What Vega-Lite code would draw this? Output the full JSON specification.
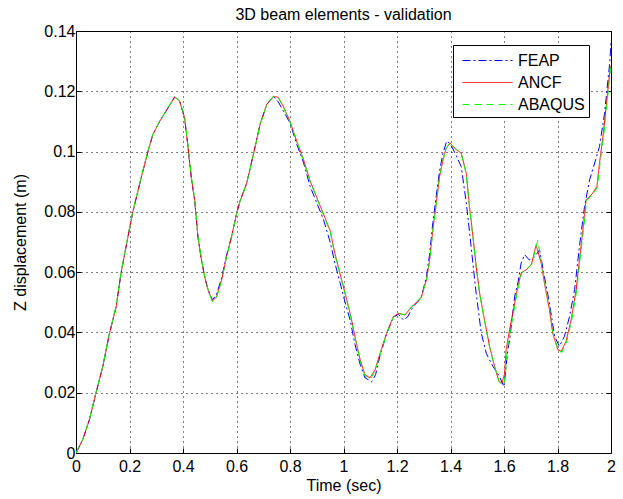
{
  "$schema": "https://vega.github.io/schema/vega-lite/v6.json",
  "autosize": {"type": "none"},
  "width": 535,
  "height": 422,
  "padding": {"left": 76, "top": 31, "right": 12, "bottom": 46},
  "background": "white",
  "title": {"text": "3D beam elements - validation", "fontSize": 16, "font": "Liberation Sans", "fontWeight": "normal", "color": "#000000", "offset": 0, "frame": "group", "anchor": "middle"},
  "config": {
    "view": {"stroke": "#000000", "strokeWidth": 1},
    "axis": {"labelFont": "Liberation Sans", "titleFont": "Liberation Sans", "labelFontSize": 16, "titleFontSize": 16, "titleFontWeight": "normal", "labelColor": "#000000", "titleColor": "#000000", "domain": false, "tickColor": "#000000", "tickSize": -5, "gridColor": "#000000", "gridDash": [1, 4], "gridOpacity": 1, "gridWidth": 1}
  },
  "datasets": {
    "curves": [
      {"t": 0, "y": 0, "s": "FEAP"},
      {"t": 0.025, "y": 0.0044, "s": "FEAP"},
      {"t": 0.05, "y": 0.011, "s": "FEAP"},
      {"t": 0.075, "y": 0.02, "s": "FEAP"},
      {"t": 0.1, "y": 0.0286, "s": "FEAP"},
      {"t": 0.125, "y": 0.0396, "s": "FEAP"},
      {"t": 0.15, "y": 0.0485, "s": "FEAP"},
      {"t": 0.169, "y": 0.06, "s": "FEAP"},
      {"t": 0.194, "y": 0.0716, "s": "FEAP"},
      {"t": 0.2125, "y": 0.08, "s": "FEAP"},
      {"t": 0.244, "y": 0.0914, "s": "FEAP"},
      {"t": 0.269, "y": 0.1, "s": "FEAP"},
      {"t": 0.2875, "y": 0.1057, "s": "FEAP"},
      {"t": 0.3125, "y": 0.11, "s": "FEAP"},
      {"t": 0.344, "y": 0.1145, "s": "FEAP"},
      {"t": 0.369, "y": 0.1181, "s": "FEAP"},
      {"t": 0.3875, "y": 0.1167, "s": "FEAP"},
      {"t": 0.406, "y": 0.1112, "s": "FEAP"},
      {"t": 0.419, "y": 0.1013, "s": "FEAP"},
      {"t": 0.431, "y": 0.0914, "s": "FEAP"},
      {"t": 0.444, "y": 0.0837, "s": "FEAP"},
      {"t": 0.456, "y": 0.0716, "s": "FEAP"},
      {"t": 0.469, "y": 0.064, "s": "FEAP"},
      {"t": 0.481, "y": 0.0585, "s": "FEAP"},
      {"t": 0.494, "y": 0.054, "s": "FEAP"},
      {"t": 0.51, "y": 0.0508, "s": "FEAP"},
      {"t": 0.525, "y": 0.0525, "s": "FEAP"},
      {"t": 0.544, "y": 0.058, "s": "FEAP"},
      {"t": 0.5625, "y": 0.0655, "s": "FEAP"},
      {"t": 0.581, "y": 0.0716, "s": "FEAP"},
      {"t": 0.6, "y": 0.0793, "s": "FEAP"},
      {"t": 0.613, "y": 0.0835, "s": "FEAP"},
      {"t": 0.638, "y": 0.0895, "s": "FEAP"},
      {"t": 0.663, "y": 0.099, "s": "FEAP"},
      {"t": 0.688, "y": 0.109, "s": "FEAP"},
      {"t": 0.713, "y": 0.1156, "s": "FEAP"},
      {"t": 0.738, "y": 0.1183, "s": "FEAP"},
      {"t": 0.756, "y": 0.1165, "s": "FEAP"},
      {"t": 0.775, "y": 0.1135, "s": "FEAP"},
      {"t": 0.8, "y": 0.1095, "s": "FEAP"},
      {"t": 0.825, "y": 0.1025, "s": "FEAP"},
      {"t": 0.85, "y": 0.0965, "s": "FEAP"},
      {"t": 0.875, "y": 0.0885, "s": "FEAP"},
      {"t": 0.9, "y": 0.083, "s": "FEAP"},
      {"t": 0.925, "y": 0.0775, "s": "FEAP"},
      {"t": 0.95, "y": 0.07, "s": "FEAP"},
      {"t": 0.968, "y": 0.063, "s": "FEAP"},
      {"t": 0.987, "y": 0.0565, "s": "FEAP"},
      {"t": 1.006, "y": 0.05, "s": "FEAP"},
      {"t": 1.025, "y": 0.044, "s": "FEAP"},
      {"t": 1.043, "y": 0.036, "s": "FEAP"},
      {"t": 1.062, "y": 0.0295, "s": "FEAP"},
      {"t": 1.08, "y": 0.025, "s": "FEAP"},
      {"t": 1.105, "y": 0.0236, "s": "FEAP"},
      {"t": 1.12, "y": 0.026, "s": "FEAP"},
      {"t": 1.137, "y": 0.0325, "s": "FEAP"},
      {"t": 1.161, "y": 0.0395, "s": "FEAP"},
      {"t": 1.186, "y": 0.045, "s": "FEAP"},
      {"t": 1.205, "y": 0.046, "s": "FEAP"},
      {"t": 1.224, "y": 0.0441, "s": "FEAP"},
      {"t": 1.24, "y": 0.0452, "s": "FEAP"},
      {"t": 1.26, "y": 0.0485, "s": "FEAP"},
      {"t": 1.29, "y": 0.0514, "s": "FEAP"},
      {"t": 1.31, "y": 0.0585, "s": "FEAP"},
      {"t": 1.322, "y": 0.066, "s": "FEAP"},
      {"t": 1.334, "y": 0.0765, "s": "FEAP"},
      {"t": 1.347, "y": 0.0855, "s": "FEAP"},
      {"t": 1.359, "y": 0.0935, "s": "FEAP"},
      {"t": 1.372, "y": 0.0995, "s": "FEAP"},
      {"t": 1.386, "y": 0.1035, "s": "FEAP"},
      {"t": 1.399, "y": 0.1025, "s": "FEAP"},
      {"t": 1.42, "y": 0.099, "s": "FEAP"},
      {"t": 1.44, "y": 0.095, "s": "FEAP"},
      {"t": 1.459, "y": 0.083, "s": "FEAP"},
      {"t": 1.477, "y": 0.0685, "s": "FEAP"},
      {"t": 1.496, "y": 0.053, "s": "FEAP"},
      {"t": 1.515, "y": 0.0398, "s": "FEAP"},
      {"t": 1.534, "y": 0.033, "s": "FEAP"},
      {"t": 1.559, "y": 0.0287, "s": "FEAP"},
      {"t": 1.583, "y": 0.0254, "s": "FEAP"},
      {"t": 1.6, "y": 0.022, "s": "FEAP"},
      {"t": 1.614, "y": 0.034, "s": "FEAP"},
      {"t": 1.621, "y": 0.0376, "s": "FEAP"},
      {"t": 1.64, "y": 0.052, "s": "FEAP"},
      {"t": 1.652, "y": 0.0564, "s": "FEAP"},
      {"t": 1.664, "y": 0.063, "s": "FEAP"},
      {"t": 1.677, "y": 0.0658, "s": "FEAP"},
      {"t": 1.695, "y": 0.064, "s": "FEAP"},
      {"t": 1.714, "y": 0.065, "s": "FEAP"},
      {"t": 1.733, "y": 0.0674, "s": "FEAP"},
      {"t": 1.751, "y": 0.0586, "s": "FEAP"},
      {"t": 1.77, "y": 0.0497, "s": "FEAP"},
      {"t": 1.789, "y": 0.0387, "s": "FEAP"},
      {"t": 1.807, "y": 0.0354, "s": "FEAP"},
      {"t": 1.826, "y": 0.0387, "s": "FEAP"},
      {"t": 1.845, "y": 0.0453, "s": "FEAP"},
      {"t": 1.864, "y": 0.0542, "s": "FEAP"},
      {"t": 1.882, "y": 0.0685, "s": "FEAP"},
      {"t": 1.901, "y": 0.0818, "s": "FEAP"},
      {"t": 1.92, "y": 0.0906, "s": "FEAP"},
      {"t": 1.939, "y": 0.0962, "s": "FEAP"},
      {"t": 1.957, "y": 0.1017, "s": "FEAP"},
      {"t": 1.976, "y": 0.1127, "s": "FEAP"},
      {"t": 1.995, "y": 0.1293, "s": "FEAP"},
      {"t": 2.0, "y": 0.136, "s": "FEAP"},

      {"t": 0, "y": 0, "s": "ANCF"},
      {"t": 0.025, "y": 0.0044, "s": "ANCF"},
      {"t": 0.05, "y": 0.011, "s": "ANCF"},
      {"t": 0.075, "y": 0.02, "s": "ANCF"},
      {"t": 0.1, "y": 0.0286, "s": "ANCF"},
      {"t": 0.125, "y": 0.0396, "s": "ANCF"},
      {"t": 0.15, "y": 0.0485, "s": "ANCF"},
      {"t": 0.169, "y": 0.06, "s": "ANCF"},
      {"t": 0.194, "y": 0.0716, "s": "ANCF"},
      {"t": 0.2125, "y": 0.08, "s": "ANCF"},
      {"t": 0.244, "y": 0.0914, "s": "ANCF"},
      {"t": 0.269, "y": 0.1, "s": "ANCF"},
      {"t": 0.2875, "y": 0.1057, "s": "ANCF"},
      {"t": 0.3125, "y": 0.11, "s": "ANCF"},
      {"t": 0.344, "y": 0.1145, "s": "ANCF"},
      {"t": 0.369, "y": 0.1181, "s": "ANCF"},
      {"t": 0.3875, "y": 0.1167, "s": "ANCF"},
      {"t": 0.406, "y": 0.1112, "s": "ANCF"},
      {"t": 0.419, "y": 0.1013, "s": "ANCF"},
      {"t": 0.431, "y": 0.0914, "s": "ANCF"},
      {"t": 0.444, "y": 0.0837, "s": "ANCF"},
      {"t": 0.456, "y": 0.0716, "s": "ANCF"},
      {"t": 0.469, "y": 0.064, "s": "ANCF"},
      {"t": 0.481, "y": 0.0585, "s": "ANCF"},
      {"t": 0.494, "y": 0.054, "s": "ANCF"},
      {"t": 0.51, "y": 0.0504, "s": "ANCF"},
      {"t": 0.525, "y": 0.0518, "s": "ANCF"},
      {"t": 0.544, "y": 0.0573, "s": "ANCF"},
      {"t": 0.5625, "y": 0.065, "s": "ANCF"},
      {"t": 0.581, "y": 0.0716, "s": "ANCF"},
      {"t": 0.6, "y": 0.0793, "s": "ANCF"},
      {"t": 0.613, "y": 0.0835, "s": "ANCF"},
      {"t": 0.638, "y": 0.0895, "s": "ANCF"},
      {"t": 0.663, "y": 0.099, "s": "ANCF"},
      {"t": 0.688, "y": 0.109, "s": "ANCF"},
      {"t": 0.713, "y": 0.1156, "s": "ANCF"},
      {"t": 0.738, "y": 0.1183, "s": "ANCF"},
      {"t": 0.756, "y": 0.118, "s": "ANCF"},
      {"t": 0.775, "y": 0.115, "s": "ANCF"},
      {"t": 0.8, "y": 0.11, "s": "ANCF"},
      {"t": 0.825, "y": 0.1035, "s": "ANCF"},
      {"t": 0.85, "y": 0.0975, "s": "ANCF"},
      {"t": 0.875, "y": 0.0903, "s": "ANCF"},
      {"t": 0.9, "y": 0.0848, "s": "ANCF"},
      {"t": 0.925, "y": 0.0793, "s": "ANCF"},
      {"t": 0.95, "y": 0.0738, "s": "ANCF"},
      {"t": 0.968, "y": 0.0661, "s": "ANCF"},
      {"t": 0.987, "y": 0.0595, "s": "ANCF"},
      {"t": 1.006, "y": 0.053, "s": "ANCF"},
      {"t": 1.025, "y": 0.0463, "s": "ANCF"},
      {"t": 1.043, "y": 0.0386, "s": "ANCF"},
      {"t": 1.062, "y": 0.031, "s": "ANCF"},
      {"t": 1.08, "y": 0.026, "s": "ANCF"},
      {"t": 1.099, "y": 0.0249, "s": "ANCF"},
      {"t": 1.118, "y": 0.0276, "s": "ANCF"},
      {"t": 1.137, "y": 0.0331, "s": "ANCF"},
      {"t": 1.161, "y": 0.0397, "s": "ANCF"},
      {"t": 1.186, "y": 0.0452, "s": "ANCF"},
      {"t": 1.205, "y": 0.0463, "s": "ANCF"},
      {"t": 1.23, "y": 0.0458, "s": "ANCF"},
      {"t": 1.255, "y": 0.0485, "s": "ANCF"},
      {"t": 1.29, "y": 0.0514, "s": "ANCF"},
      {"t": 1.31, "y": 0.0575, "s": "ANCF"},
      {"t": 1.322, "y": 0.064, "s": "ANCF"},
      {"t": 1.334, "y": 0.074, "s": "ANCF"},
      {"t": 1.347, "y": 0.083, "s": "ANCF"},
      {"t": 1.359, "y": 0.0917, "s": "ANCF"},
      {"t": 1.372, "y": 0.0973, "s": "ANCF"},
      {"t": 1.384, "y": 0.1011, "s": "ANCF"},
      {"t": 1.399, "y": 0.1028, "s": "ANCF"},
      {"t": 1.415, "y": 0.1011, "s": "ANCF"},
      {"t": 1.44, "y": 0.0995, "s": "ANCF"},
      {"t": 1.459, "y": 0.0928, "s": "ANCF"},
      {"t": 1.471, "y": 0.0818, "s": "ANCF"},
      {"t": 1.484, "y": 0.0718, "s": "ANCF"},
      {"t": 1.496, "y": 0.0619, "s": "ANCF"},
      {"t": 1.509, "y": 0.053, "s": "ANCF"},
      {"t": 1.527, "y": 0.0442, "s": "ANCF"},
      {"t": 1.546, "y": 0.0354, "s": "ANCF"},
      {"t": 1.565, "y": 0.0287, "s": "ANCF"},
      {"t": 1.581, "y": 0.0238, "s": "ANCF"},
      {"t": 1.592, "y": 0.0232, "s": "ANCF"},
      {"t": 1.602, "y": 0.0262, "s": "ANCF"},
      {"t": 1.608, "y": 0.0343, "s": "ANCF"},
      {"t": 1.621, "y": 0.0409, "s": "ANCF"},
      {"t": 1.64, "y": 0.0497, "s": "ANCF"},
      {"t": 1.652, "y": 0.0553, "s": "ANCF"},
      {"t": 1.664, "y": 0.0597, "s": "ANCF"},
      {"t": 1.683, "y": 0.0608, "s": "ANCF"},
      {"t": 1.702, "y": 0.0624, "s": "ANCF"},
      {"t": 1.72, "y": 0.069, "s": "ANCF"},
      {"t": 1.739, "y": 0.063, "s": "ANCF"},
      {"t": 1.751, "y": 0.0564, "s": "ANCF"},
      {"t": 1.77, "y": 0.0475, "s": "ANCF"},
      {"t": 1.782, "y": 0.0398, "s": "ANCF"},
      {"t": 1.801, "y": 0.0343, "s": "ANCF"},
      {"t": 1.814, "y": 0.0337, "s": "ANCF"},
      {"t": 1.832, "y": 0.037, "s": "ANCF"},
      {"t": 1.851, "y": 0.0442, "s": "ANCF"},
      {"t": 1.87, "y": 0.0542, "s": "ANCF"},
      {"t": 1.882, "y": 0.0641, "s": "ANCF"},
      {"t": 1.895, "y": 0.074, "s": "ANCF"},
      {"t": 1.907, "y": 0.084, "s": "ANCF"},
      {"t": 1.932, "y": 0.0862, "s": "ANCF"},
      {"t": 1.947, "y": 0.0884, "s": "ANCF"},
      {"t": 1.957, "y": 0.0962, "s": "ANCF"},
      {"t": 1.97, "y": 0.105, "s": "ANCF"},
      {"t": 1.982, "y": 0.115, "s": "ANCF"},
      {"t": 1.995, "y": 0.126, "s": "ANCF"},
      {"t": 2.0, "y": 0.1285, "s": "ANCF"},

      {"t": 0, "y": 0, "s": "ABAQUS"},
      {"t": 0.025, "y": 0.0045, "s": "ABAQUS"},
      {"t": 0.05, "y": 0.0112, "s": "ABAQUS"},
      {"t": 0.075, "y": 0.0202, "s": "ABAQUS"},
      {"t": 0.1, "y": 0.0288, "s": "ABAQUS"},
      {"t": 0.125, "y": 0.0398, "s": "ABAQUS"},
      {"t": 0.15, "y": 0.0487, "s": "ABAQUS"},
      {"t": 0.169, "y": 0.0602, "s": "ABAQUS"},
      {"t": 0.194, "y": 0.0718, "s": "ABAQUS"},
      {"t": 0.2125, "y": 0.0802, "s": "ABAQUS"},
      {"t": 0.244, "y": 0.0916, "s": "ABAQUS"},
      {"t": 0.269, "y": 0.1002, "s": "ABAQUS"},
      {"t": 0.2875, "y": 0.1058, "s": "ABAQUS"},
      {"t": 0.3125, "y": 0.1101, "s": "ABAQUS"},
      {"t": 0.344, "y": 0.1146, "s": "ABAQUS"},
      {"t": 0.369, "y": 0.1182, "s": "ABAQUS"},
      {"t": 0.3875, "y": 0.1168, "s": "ABAQUS"},
      {"t": 0.406, "y": 0.1115, "s": "ABAQUS"},
      {"t": 0.419, "y": 0.1018, "s": "ABAQUS"},
      {"t": 0.431, "y": 0.0918, "s": "ABAQUS"},
      {"t": 0.444, "y": 0.084, "s": "ABAQUS"},
      {"t": 0.456, "y": 0.072, "s": "ABAQUS"},
      {"t": 0.469, "y": 0.0643, "s": "ABAQUS"},
      {"t": 0.481, "y": 0.0587, "s": "ABAQUS"},
      {"t": 0.494, "y": 0.0542, "s": "ABAQUS"},
      {"t": 0.51, "y": 0.0502, "s": "ABAQUS"},
      {"t": 0.525, "y": 0.0514, "s": "ABAQUS"},
      {"t": 0.544, "y": 0.057, "s": "ABAQUS"},
      {"t": 0.5625, "y": 0.0648, "s": "ABAQUS"},
      {"t": 0.581, "y": 0.0715, "s": "ABAQUS"},
      {"t": 0.6, "y": 0.0792, "s": "ABAQUS"},
      {"t": 0.613, "y": 0.0834, "s": "ABAQUS"},
      {"t": 0.638, "y": 0.0894, "s": "ABAQUS"},
      {"t": 0.663, "y": 0.0989, "s": "ABAQUS"},
      {"t": 0.688, "y": 0.1089, "s": "ABAQUS"},
      {"t": 0.713, "y": 0.1155, "s": "ABAQUS"},
      {"t": 0.738, "y": 0.1184, "s": "ABAQUS"},
      {"t": 0.756, "y": 0.1179, "s": "ABAQUS"},
      {"t": 0.775, "y": 0.1148, "s": "ABAQUS"},
      {"t": 0.8, "y": 0.1098, "s": "ABAQUS"},
      {"t": 0.825, "y": 0.1033, "s": "ABAQUS"},
      {"t": 0.85, "y": 0.0973, "s": "ABAQUS"},
      {"t": 0.875, "y": 0.0901, "s": "ABAQUS"},
      {"t": 0.9, "y": 0.0846, "s": "ABAQUS"},
      {"t": 0.925, "y": 0.079, "s": "ABAQUS"},
      {"t": 0.95, "y": 0.0734, "s": "ABAQUS"},
      {"t": 0.968, "y": 0.0658, "s": "ABAQUS"},
      {"t": 0.987, "y": 0.0592, "s": "ABAQUS"},
      {"t": 1.006, "y": 0.0527, "s": "ABAQUS"},
      {"t": 1.025, "y": 0.046, "s": "ABAQUS"},
      {"t": 1.043, "y": 0.0383, "s": "ABAQUS"},
      {"t": 1.062, "y": 0.0306, "s": "ABAQUS"},
      {"t": 1.08, "y": 0.0256, "s": "ABAQUS"},
      {"t": 1.1, "y": 0.0244, "s": "ABAQUS"},
      {"t": 1.118, "y": 0.0272, "s": "ABAQUS"},
      {"t": 1.137, "y": 0.0328, "s": "ABAQUS"},
      {"t": 1.161, "y": 0.0395, "s": "ABAQUS"},
      {"t": 1.186, "y": 0.045, "s": "ABAQUS"},
      {"t": 1.205, "y": 0.0462, "s": "ABAQUS"},
      {"t": 1.23, "y": 0.0459, "s": "ABAQUS"},
      {"t": 1.255, "y": 0.0486, "s": "ABAQUS"},
      {"t": 1.29, "y": 0.0516, "s": "ABAQUS"},
      {"t": 1.31, "y": 0.0572, "s": "ABAQUS"},
      {"t": 1.322, "y": 0.0636, "s": "ABAQUS"},
      {"t": 1.334, "y": 0.0738, "s": "ABAQUS"},
      {"t": 1.347, "y": 0.0828, "s": "ABAQUS"},
      {"t": 1.359, "y": 0.0915, "s": "ABAQUS"},
      {"t": 1.372, "y": 0.0972, "s": "ABAQUS"},
      {"t": 1.384, "y": 0.1012, "s": "ABAQUS"},
      {"t": 1.399, "y": 0.103, "s": "ABAQUS"},
      {"t": 1.415, "y": 0.1013, "s": "ABAQUS"},
      {"t": 1.44, "y": 0.0993, "s": "ABAQUS"},
      {"t": 1.459, "y": 0.0925, "s": "ABAQUS"},
      {"t": 1.471, "y": 0.0815, "s": "ABAQUS"},
      {"t": 1.484, "y": 0.0715, "s": "ABAQUS"},
      {"t": 1.496, "y": 0.0616, "s": "ABAQUS"},
      {"t": 1.509, "y": 0.0528, "s": "ABAQUS"},
      {"t": 1.527, "y": 0.044, "s": "ABAQUS"},
      {"t": 1.546, "y": 0.0352, "s": "ABAQUS"},
      {"t": 1.565, "y": 0.0285, "s": "ABAQUS"},
      {"t": 1.583, "y": 0.0236, "s": "ABAQUS"},
      {"t": 1.598, "y": 0.0222, "s": "ABAQUS"},
      {"t": 1.606, "y": 0.0268, "s": "ABAQUS"},
      {"t": 1.612, "y": 0.0345, "s": "ABAQUS"},
      {"t": 1.625, "y": 0.041, "s": "ABAQUS"},
      {"t": 1.642, "y": 0.0497, "s": "ABAQUS"},
      {"t": 1.654, "y": 0.0553, "s": "ABAQUS"},
      {"t": 1.666, "y": 0.0598, "s": "ABAQUS"},
      {"t": 1.685, "y": 0.061, "s": "ABAQUS"},
      {"t": 1.704, "y": 0.0628, "s": "ABAQUS"},
      {"t": 1.726, "y": 0.0705, "s": "ABAQUS"},
      {"t": 1.741, "y": 0.063, "s": "ABAQUS"},
      {"t": 1.753, "y": 0.0562, "s": "ABAQUS"},
      {"t": 1.772, "y": 0.0472, "s": "ABAQUS"},
      {"t": 1.784, "y": 0.0395, "s": "ABAQUS"},
      {"t": 1.803, "y": 0.034, "s": "ABAQUS"},
      {"t": 1.816, "y": 0.0334, "s": "ABAQUS"},
      {"t": 1.834, "y": 0.0368, "s": "ABAQUS"},
      {"t": 1.853, "y": 0.044, "s": "ABAQUS"},
      {"t": 1.872, "y": 0.054, "s": "ABAQUS"},
      {"t": 1.884, "y": 0.064, "s": "ABAQUS"},
      {"t": 1.897, "y": 0.0738, "s": "ABAQUS"},
      {"t": 1.909, "y": 0.0838, "s": "ABAQUS"},
      {"t": 1.934, "y": 0.086, "s": "ABAQUS"},
      {"t": 1.949, "y": 0.0882, "s": "ABAQUS"},
      {"t": 1.959, "y": 0.096, "s": "ABAQUS"},
      {"t": 1.972, "y": 0.1048, "s": "ABAQUS"},
      {"t": 1.984, "y": 0.1148, "s": "ABAQUS"},
      {"t": 1.996, "y": 0.1255, "s": "ABAQUS"},
      {"t": 2.0, "y": 0.1282, "s": "ABAQUS"}
    ]
  },
  "data": {"name": "curves"},
  "layer": [
    {
      "mark": {"type": "line", "strokeWidth": 1, "clip": true},
      "encoding": {
        "x": {"field": "t", "type": "quantitative", "scale": {"domain": [0, 2], "nice": false},
              "axis": {"title": "Time (sec)", "values": [0, 0.2, 0.4, 0.6, 0.8, 1, 1.2, 1.4, 1.6, 1.8, 2], "format": "~g", "labelPadding": 10, "titlePadding": 3, "labelFlush": false}},
        "y": {"field": "y", "type": "quantitative", "scale": {"domain": [0, 0.14], "nice": false},
              "axis": {"title": "Z displacement (m)", "values": [0, 0.02, 0.04, 0.06, 0.08, 0.1, 0.12, 0.14], "format": "~g", "labelPadding": 6, "titlePadding": 15, "labelFlush": false}},
        "color": {"field": "s", "type": "nominal",
                  "scale": {"domain": ["FEAP", "ANCF", "ABAQUS"], "range": ["#0000ff", "#ff0000", "#00ff00"]},
                  "legend": {"title": null, "orient": "none", "legendX": 377, "legendY": 14, "labelFont": "Liberation Sans", "labelFontSize": 16, "labelColor": "#000000", "strokeColor": "#000000", "fillColor": "white", "padding": 4, "symbolType": "M-0.545,0H4", "symbolSize": 484, "symbolStrokeWidth": 1, "rowPadding": 2, "labelOffset": 38, "symbolDash": {"expr": "datum.value == 'FEAP' ? [8,3,2,3] : datum.value == 'ABAQUS' ? [7,5] : [1,0]"}}},
        "strokeDash": {"field": "s", "type": "nominal",
                  "scale": {"domain": ["FEAP", "ANCF", "ABAQUS"], "range": [[8, 3, 2, 3], [1, 0], [7, 5]]},
                  "legend": null},
        "order": {"field": "t", "type": "quantitative"}
      }
    },
    {
      "mark": {"type": "line", "opacity": 0},
      "encoding": {
        "x": {"field": "t", "type": "quantitative"},
        "y": {"field": "y", "type": "quantitative", "axis": {"orient": "right", "labels": false, "title": null, "grid": false, "values": [0, 0.02, 0.04, 0.06, 0.08, 0.1, 0.12, 0.14]}},
        "detail": {"field": "s"}
      }
    }
  ],
  "resolve": {"axis": {"y": "independent"}}
}
